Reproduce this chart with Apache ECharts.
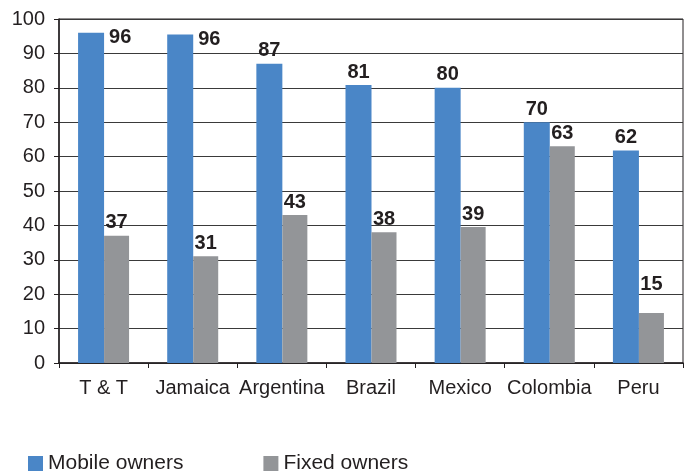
<!DOCTYPE html>
<html><head><meta charset="utf-8">
<script src="https://cdn.jsdelivr.net/npm/echarts@6/dist/echarts.min.js"></script>
<style>html,body{margin:0;padding:0;background:#fff}#c{width:691px;height:472px}</style>
</head><body><div id="c"></div>
<script>
const categories = ['T & T', 'Jamaica', 'Argentina', 'Brazil', 'Mexico', 'Colombia', 'Peru'];
const mobileOwners = [96, 95.5, 87, 80.8, 80, 70, 61.8];
const mobileLabels = ['96', '96', '87', '81', '80', '70', '62'];
const fixedOwners = [37, 31, 43, 38, 39.5, 63, 14.5];
const fixedLabels = ['37', '31', '43', '38', '39', '63', '15'];
const yTicks = [0, 10, 20, 30, 40, 50, 60, 70, 80, 90, 100];

const AFONT = "'Liberation Sans', Arial, sans-serif";
const labelStyle = {show: true, position: 'top', distance: 3, fontFamily: AFONT, fontWeight: 'bold', fontSize: 20, color: '#231f20'};

const mobileData = mobileOwners.map((v, i) => {
  const d = {value: v};
  if (i < 2) d.label = {position: [31, 5], align: 'left', verticalAlign: 'middle'};
  return d;
});
const fixedData = fixedOwners.map((v, i) => {
  const d = {value: v};
  if (i === 6) d.label = {distance: 19};
  return d;
});

const chart = echarts.init(document.getElementById('c'), null, {renderer: 'canvas'});
chart.setOption({
  animation: false,
  grid: {left: 59, right: 8, top: 19, bottom: 109, show: true, borderColor: '#231f20', borderWidth: 1},
  legend: {
    top: 448, left: 23, itemGap: 80, itemWidth: 15, itemHeight: 15,
    textStyle: {fontFamily: AFONT, fontSize: 21, color: '#231f20'},
    data: [{name: 'Mobile owners', icon: 'rect'}, {name: 'Fixed owners', icon: 'rect'}]
  },
  xAxis: {
    type: 'category', data: categories,
    axisLine: {lineStyle: {color: '#231f20', width: 1.5}},
    axisTick: {show: true, length: 5, lineStyle: {color: '#231f20'}},
    axisLabel: {interval: 0, fontFamily: AFONT, fontSize: 20, color: '#231f20', margin: 15}
  },
  yAxis: {
    type: 'value', min: 0, max: 100, interval: 10,
    axisLine: {show: true, lineStyle: {color: '#231f20', width: 1.5}},
    axisTick: {show: true, length: 5, lineStyle: {color: '#231f20'}},
    axisLabel: {fontFamily: AFONT, fontSize: 20, color: '#231f20', margin: 14,
      formatter: v => yTicks.includes(v) ? String(v) : ''},
    splitLine: {lineStyle: {color: '#3a3a3a', width: 1}}
  },
  series: [
    {name: 'Mobile owners', type: 'bar', data: mobileData, barWidth: 26, barGap: '0%',
      itemStyle: {color: '#4a86c7'},
      label: Object.assign({}, labelStyle, {formatter: p => mobileLabels[p.dataIndex]})},
    {name: 'Fixed owners', type: 'bar', data: fixedData, barWidth: 25,
      itemStyle: {color: '#939598'},
      label: Object.assign({}, labelStyle, {formatter: p => fixedLabels[p.dataIndex]})}
  ]
});
</script></body></html>
